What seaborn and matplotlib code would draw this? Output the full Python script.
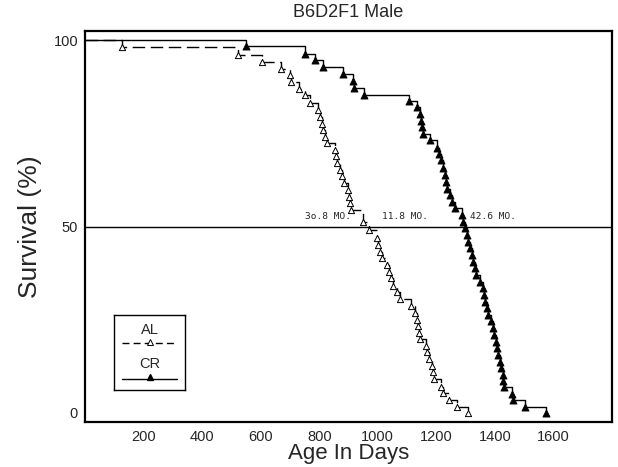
import matplotlib
matplotlib.use("Agg")
import matplotlib.pyplot as plt
import seaborn as sns
import pandas as pd

# ---- data ----
al_days = [126, 524, 603, 668, 700, 703, 731, 751, 768, 797, 803, 809, 814, 820, 825,
           854, 857, 860, 871, 877, 885, 899, 903, 905, 907, 948, 970, 998, 1002, 1008,
           1013, 1030, 1039, 1045, 1051, 1065, 1076, 1112, 1127, 1135, 1139, 1142, 1144,
           1165, 1169, 1176, 1184, 1187, 1192, 1215, 1224, 1243, 1272, 1308]
al_surv = [98.2, 96.0, 94.2, 92.4, 90.6, 88.8, 86.8, 85.3, 83.2, 81.4, 79.3, 77.6, 75.9,
           74.1, 72.3, 70.6, 68.9, 67.0, 65.3, 63.5, 61.6, 59.8, 58.0, 56.2, 54.4, 51.3,
           49.0, 46.8, 45.0, 43.2, 41.5, 39.7, 37.9, 36.1, 34.0, 32.3, 30.5, 28.7, 26.9,
           24.9, 23.2, 21.5, 19.7, 18.0, 16.2, 14.4, 12.6, 10.8, 9.0, 7.0, 5.3, 3.3, 1.5, 0.0]

cr_days = [550, 751, 786, 812, 882, 916, 918, 954, 1108, 1135, 1144, 1147, 1150, 1153,
           1178, 1201, 1210, 1215, 1224, 1230, 1233, 1237, 1247, 1252, 1264, 1287, 1290,
           1298, 1304, 1309, 1315, 1321, 1326, 1332, 1335, 1349, 1360, 1363, 1366, 1374,
           1377, 1386, 1394, 1397, 1404, 1408, 1412, 1417, 1420, 1427, 1429, 1431, 1457,
           1463, 1503, 1574]
cr_surv = [98.4, 96.2, 94.6, 92.8, 90.9, 89.1, 87.3, 85.4, 83.6, 82.0, 80.2, 78.4, 76.6,
           74.8, 73.2, 71.2, 69.4, 67.8, 65.6, 63.8, 62.0, 60.2, 58.4, 56.6, 54.9, 53.1,
           51.3, 49.5, 47.7, 45.9, 44.1, 42.4, 40.6, 38.8, 37.0, 35.2, 33.4, 31.6, 29.8,
           28.0, 26.3, 24.5, 22.7, 20.9, 19.1, 17.3, 15.5, 13.7, 11.9, 10.2, 8.4, 6.9,
           5.1, 3.3, 1.5, 0.0]

groups = ["AL", "CR"]
median_labels = ["3o.8 MO.", "11.8 MO.", "42.6 MO."]
median_label_x = [830, 1093, 1393]
x_ticks = [200, 400, 600, 800, 1000, 1200, 1400, 1600]
y_ticks = [0, 50, 100]

title = "B6D2F1 Male"
xlabel = "Age In Days"
ylabel = "Survival (%)"

# ---- figure ----
sns.set_style("white")
plt.rcParams["font.family"] = ["Liberation Sans", "DejaVu Sans"]

fig = plt.figure(figsize=(6.18, 4.67), dpi=100)
ax = fig.add_axes([85 / 618, 1 - 422 / 467, 527 / 618, 391 / 467])

al_steps = pd.DataFrame({"day": [0] + al_days, "surv": [100.0] + al_surv})
cr_steps = pd.DataFrame({"day": [0] + cr_days, "surv": [100.0] + cr_surv})

sns.lineplot(data=cr_steps, x="day", y="surv", drawstyle="steps-post", estimator=None,
             sort=False, color="black", lw=1.0, ax=ax)
sns.lineplot(data=al_steps, x="day", y="surv", drawstyle="steps-post", estimator=None,
             sort=False, color="black", lw=1.0, ax=ax, dashes=False)
ax.lines[-1].set_dashes([9, 4])

sns.scatterplot(x=cr_days, y=cr_surv, marker="^", s=26, color="black",
                edgecolor="black", linewidth=0.6, ax=ax, zorder=4)
sns.scatterplot(x=al_days, y=al_surv, marker="^", s=20, facecolor="white",
                edgecolor="black", linewidth=0.7, ax=ax, zorder=4)

ax.axhline(50, color="black", lw=1.0)
for lab, xx in zip(median_labels, median_label_x):
    ax.text(xx, 52.6, lab, ha="center", va="center", fontsize=6.8,
            family="DejaVu Sans Mono")

ax.set_xlim(0, 1800)
ax.set_ylim(-2.5, 102.5)
ax.set_xticks(x_ticks)
ax.set_yticks(y_ticks)
ax.set_yticks(range(0, 101, 10), minor=True)
ax.tick_params(axis="both", which="both", direction="in", length=6, width=0.9,
               labelsize=10.5, pad=5, color="black")
ax.tick_params(axis="x", which="major", pad=6)
for sp in ax.spines.values():
    sp.set_visible(True)
    sp.set_color("black")
    sp.set_linewidth(1.6)

ax.set_xlabel(xlabel, fontsize=16, labelpad=-1)
ax.set_ylabel(ylabel, fontsize=19, labelpad=8)
ax.set_title(title, fontsize=13, pad=10)

# legend box
lg = ax.inset_axes([0.055, 0.082, 0.135, 0.192])
lg.set_xlim(0, 1)
lg.set_ylim(0, 1)
lg.set_xticks([])
lg.set_yticks([])
for sp in lg.spines.values():
    sp.set_color("black")
    sp.set_linewidth(1.0)
lg.text(0.5, 0.80, groups[0], ha="center", va="center", fontsize=10.5)
lg.plot([0.11, 0.89], [0.62, 0.62], color="black", lw=1.0, dashes=[5, 3])
lg.plot([0.5], [0.64], marker="^", ms=4.5, mfc="white", mec="black", mew=0.7)
lg.text(0.5, 0.34, groups[1], ha="center", va="center", fontsize=10.5)
lg.plot([0.11, 0.89], [0.15, 0.15], color="black", lw=1.0)
lg.plot([0.5], [0.17], marker="^", ms=4.5, color="black")

fig.savefig("out.png", dpi=100)
